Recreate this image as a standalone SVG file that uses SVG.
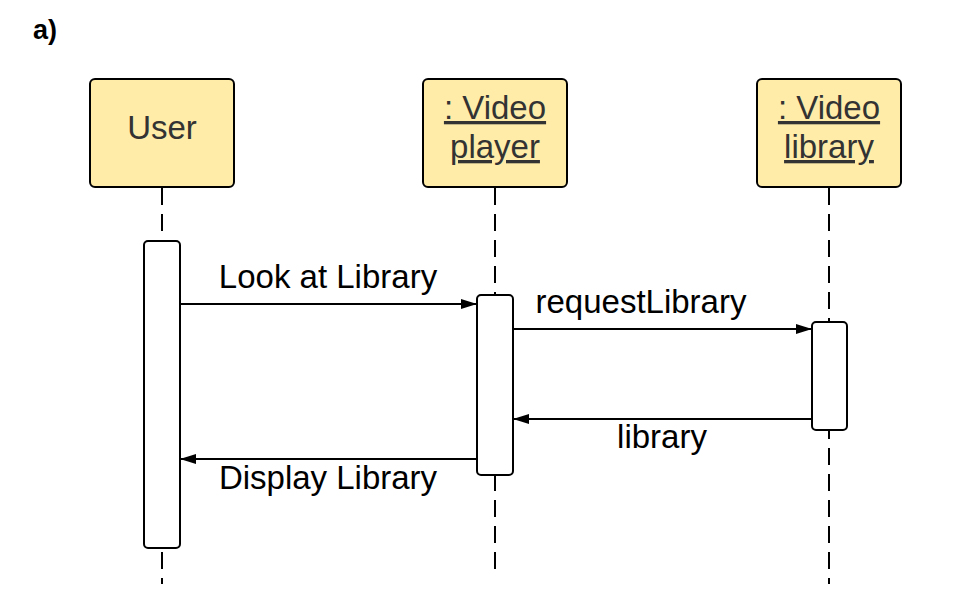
<svg xmlns="http://www.w3.org/2000/svg" width="960" height="609" viewBox="0 0 960 609">
<defs>
<style>
.obj{fill:#ffeca9;stroke:#000;stroke-width:2}
.act{fill:#fff;stroke:#000;stroke-width:2}
.life{stroke:#000;stroke-width:2;stroke-dasharray:17 9;fill:none}
.msg{stroke:#000;stroke-width:2;fill:none}
.ot{font-family:"Liberation Sans",Arial,sans-serif;font-size:33px;fill:#333;text-anchor:middle}
.u{text-decoration:underline}
.ml{font-family:"Liberation Sans",Arial,sans-serif;font-size:33px;fill:#000;text-anchor:middle}
</style>
<marker id="ah" markerWidth="16" markerHeight="10" refX="16" refY="5" orient="auto" markerUnits="userSpaceOnUse">
<path d="M0,0 L16,5 L0,10 Z" fill="#000"/>
</marker>
</defs>
<rect width="960" height="609" fill="#fff"/>
<text x="33" y="39" font-family="Liberation Sans,Arial,sans-serif" font-size="27" font-weight="bold" fill="#000">a)</text>

<g id="lifelines">
<line class="life" x1="162" y1="188" x2="162" y2="584"/>
<line class="life" x1="495" y1="188" x2="495" y2="575"/>
<line class="life" x1="829" y1="188" x2="829" y2="584"/>
</g>

<g id="user">
<rect class="obj" x="90" y="79" width="144" height="108" rx="5"/>
<text class="ot" x="162" y="139">User</text>
<rect class="act" x="144" y="241" width="36" height="307" rx="4"/>
</g>

<g id="player">
<rect class="obj" x="423" y="79" width="144" height="108" rx="5"/>
<text class="ot u" x="495" y="119">: Video</text>
<text class="ot u" x="495" y="158">player</text>
<rect class="act" x="477" y="295" width="36" height="180" rx="4"/>
</g>

<g id="library">
<rect class="obj" x="757" y="79" width="144" height="108" rx="5"/>
<text class="ot u" x="829" y="119">: Video</text>
<text class="ot u" x="829" y="158">library</text>
<rect class="act" x="812" y="322" width="35" height="108" rx="4"/>
</g>

<g id="connectors">
<line class="msg" x1="180" y1="304" x2="477" y2="304" marker-end="url(#ah)"/>
<text class="ml" x="328" y="288">Look at Library</text>
<line class="msg" x1="513" y1="329" x2="812" y2="329" marker-end="url(#ah)"/>
<text class="ml" x="641" y="313">requestLibrary</text>
<line class="msg" x1="812" y1="419" x2="513" y2="419" marker-end="url(#ah)"/>
<text class="ml" x="662" y="448">library</text>
<line class="msg" x1="477" y1="459" x2="180" y2="459" marker-end="url(#ah)"/>
<text class="ml" x="328" y="489">Display Library</text>
</g>
</svg>
